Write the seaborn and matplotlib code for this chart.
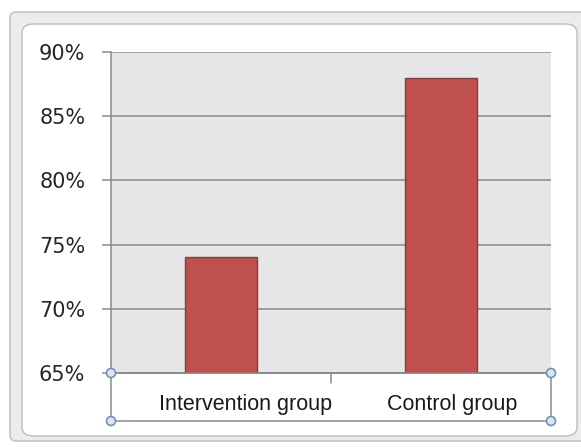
import matplotlib
matplotlib.use("Agg")
import matplotlib.pyplot as plt
from matplotlib.patches import FancyBboxPatch, Rectangle, Ellipse
import seaborn as sns
import pandas as pd

groups = ["Intervention group", "Control group"]
rates = [0.74, 0.88]
y_ticks = [0.65, 0.70, 0.75, 0.80, 0.85, 0.90]
y_labels = ["65%", "70%", "75%", "80%", "85%", "90%"]

df = pd.DataFrame({"group": groups, "rate": rates})

sns.set_theme(style="white")
plt.rcParams["font.family"] = ["DejaVu Sans"]

W, H = 581, 447
fig = plt.figure(figsize=(W / 100, H / 100), dpi=100)
fig.patch.set_facecolor("white")

def fx(px):
    return px / W

def fy(py):
    return 1 - py / H

# window-like frame around the chart
fig.patches.append(FancyBboxPatch((fx(10), fy(441)), fx(600) - fx(10), fy(12) - fy(441),
                                  boxstyle="round,pad=0,rounding_size=0.012",
                                  transform=fig.transFigure, facecolor="#ececec",
                                  edgecolor="#c4c4c4", linewidth=1.2, zorder=-3))
fig.patches.append(FancyBboxPatch((fx(22), fy(436)), fx(577) - fx(22), fy(24) - fy(436),
                                  boxstyle="round,pad=0,rounding_size=0.02",
                                  transform=fig.transFigure, facecolor="white",
                                  edgecolor="#bdbdbd", linewidth=1.0, zorder=-2))

ax = fig.add_axes([fx(111), fy(373), fx(551) - fx(111), fy(52) - fy(373)])
ax.set_zorder(1)
ax.set_facecolor("#e6e6e6")

sns.barplot(data=df, x="group", y="rate", ax=ax, color="#c0504d", width=0.33,
            edgecolor="#8c3a38", linewidth=1.0, saturation=1, zorder=3)

ax.set_ylim(0.65, 0.90)
ax.set_xlim(-0.5, 1.5)
ax.set_yticks(y_ticks)
ax.set_yticklabels(y_labels, fontsize=15, color="#262626")
ax.yaxis.grid(True, color="#8a8a8a", linewidth=1.1, zorder=1)
ax.set_axisbelow(True)
ax.tick_params(axis="y", length=6.5, width=1.1, color="#8a8a8a", pad=12, left=True)
ax.tick_params(axis="x", length=0, labelbottom=False)
ax.set_xlabel("")
ax.set_ylabel("")
for side in ["top", "right"]:
    ax.spines[side].set_visible(False)
ax.spines["left"].set_color("#8a8a8a")
ax.spines["left"].set_linewidth(1.1)
ax.spines["bottom"].set_color("#8a8a8a")
ax.spines["bottom"].set_linewidth(1.1)

# category labels below the axis
label_offsets = [0.11, 0.05]
for i, (name, off) in enumerate(zip(groups, label_offsets)):
    ax.text(i + off, -0.098, name, transform=ax.get_xaxis_transform(),
            ha="center", va="center", fontsize=15.5, color="#1a1a1a",
            family=["Liberation Sans Narrow", "Liberation Sans"])

# divider tick between categories
ax.plot([0.5, 0.5], [0, -0.03], transform=ax.get_xaxis_transform(),
        color="#8a8a8a", linewidth=1.1, clip_on=False)

# selection box around the category axis
x0, x1, y0, y1 = fx(111), fx(551), fy(421), fy(373)
fig.artists.append(Rectangle((x0, y0), x1 - x0, y1 - y0, transform=fig.transFigure,
                             fill=False, edgecolor="#8a8a8a", linewidth=1.1, zorder=5))
r = 4.5
for cx, cy in [(x0, y0), (x1, y0), (x0, y1), (x1, y1)]:
    fig.artists.append(Ellipse((cx, cy), 2 * r / W, 2 * r / H, transform=fig.transFigure,
                               facecolor="#dbe6f1", edgecolor="#6f93b8",
                               linewidth=1.2, zorder=6))

fig.savefig("out.png", dpi=100)
